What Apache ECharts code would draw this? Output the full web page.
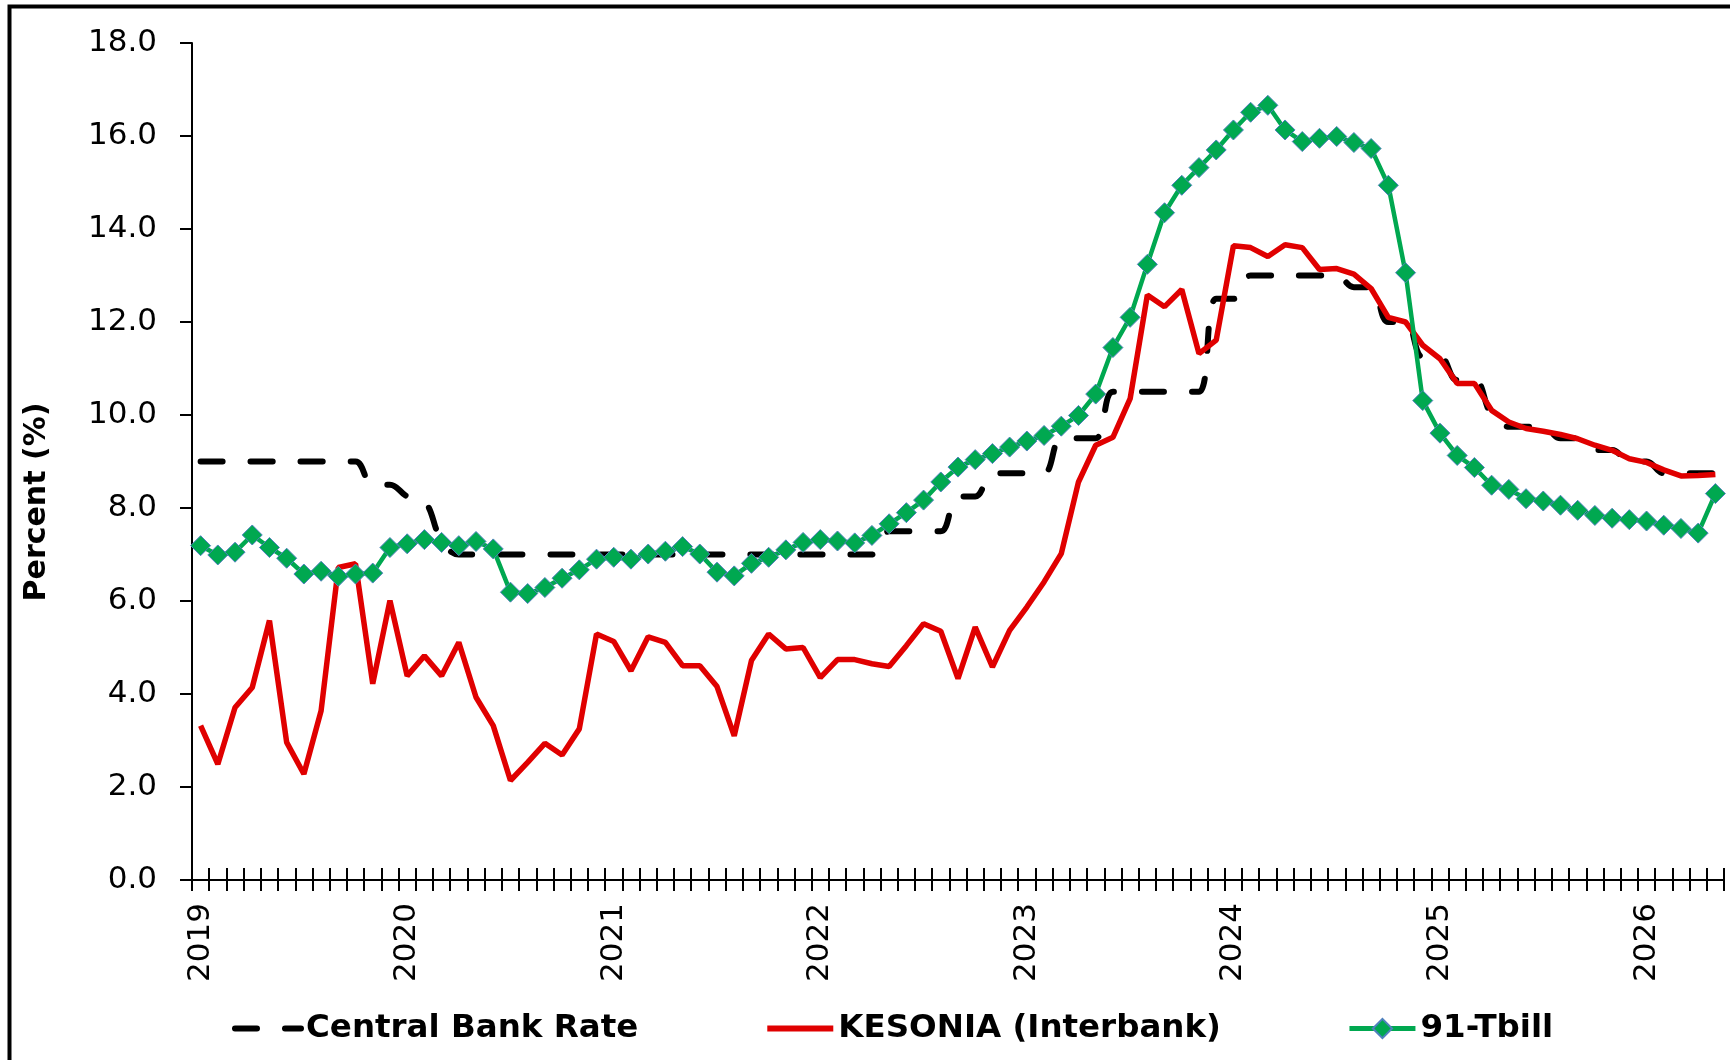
<!DOCTYPE html>
<html>
<head>
<meta charset="utf-8">
<title>Central Bank Rate, KESONIA and 91-Tbill</title>
<script src="https://cdn.jsdelivr.net/npm/echarts@6/dist/echarts.min.js"></script>
<style>
  html, body { margin: 0; padding: 0; background: #fff; }
  #chart { width: 1730px; height: 1060px; }
</style>
</head>
<body>
<div id="chart"></div>
<script>
// monthly, Jan 2019 .. May 2026
const months = []
for (let y = 2019; y <= 2026; y++) {
  for (let m = 1; m <= 12; m++) {
    if (y === 2026 && m > 5) break
    months.push(y + '-' + (m < 10 ? '0' + m : m))
  }
}

const cbr = [
  9.0, 9.0, 9.0, 9.0, 9.0, 9.0, 9.0, 9.0, 9.0, 9.0, 8.5, 8.5,
  8.25, 8.15, 7.3, 7.0, 7.0, 7.0, 7.0, 7.0, 7.0, 7.0, 7.0, 7.0,
  7.0, 7.0, 7.0, 7.0, 7.0, 7.0, 7.0, 7.0, 7.0, 7.0, 7.0, 7.0,
  7.0, 7.0, 7.0, 7.0, 7.5, 7.5, 7.5, 7.5, 8.25, 8.25, 8.75, 8.75,
  8.75, 8.75, 9.5, 9.5, 9.5, 10.5, 10.5, 10.5, 10.5, 10.5, 10.5, 12.5,
  12.5, 13.0, 13.0, 13.0, 13.0, 13.0, 13.0, 12.75, 12.75, 12.0, 12.0, 11.25,
  11.25, 10.75, 10.75, 10.0, 9.75, 9.75, 9.75, 9.5, 9.5, 9.25, 9.25, 9.0,
  9.0, 8.75, 8.75, 8.75, 8.75
]

const kesonia = [
  3.32, 2.49, 3.71, 4.14, 5.58, 2.96, 2.28, 3.64, 6.72, 6.80, 4.22, 6.01,
  4.39, 4.82, 4.39, 5.11, 3.93, 3.32, 2.14, 2.53, 2.94, 2.69, 3.25, 5.29,
  5.13, 4.50, 5.23, 5.11, 4.61, 4.61, 4.16, 3.10, 4.72, 5.29, 4.97, 5.00,
  4.35, 4.74, 4.74, 4.65, 4.59, 5.04, 5.51, 5.35, 4.33, 5.44, 4.58, 5.37,
  5.87, 6.41, 7.02, 8.56, 9.35, 9.52, 10.35, 12.58, 12.33, 12.70, 11.32, 11.61,
  13.64, 13.60, 13.41, 13.66, 13.60, 13.13, 13.15, 13.03, 12.72, 12.10, 12.00, 11.50,
  11.21, 10.68, 10.68, 10.10, 9.85, 9.71, 9.65, 9.58, 9.49, 9.35, 9.24, 9.06,
  8.98, 8.82, 8.69, 8.70, 8.72
]

const tbill91 = [
  7.19, 6.99, 7.05, 7.42, 7.15, 6.92, 6.58, 6.64, 6.53, 6.58, 6.60, 7.15,
  7.23, 7.32, 7.26, 7.19, 7.28, 7.12, 6.19, 6.16, 6.29, 6.49, 6.67, 6.90,
  6.94, 6.90, 7.01, 7.07, 7.17, 7.01, 6.62, 6.54, 6.81, 6.94, 7.10, 7.26,
  7.32, 7.29, 7.25, 7.41, 7.66, 7.90, 8.17, 8.56, 8.88, 9.04, 9.17, 9.31,
  9.44, 9.56, 9.76, 9.99, 10.45, 11.45, 12.10, 13.24, 14.35, 14.94, 15.32, 15.70,
  16.13, 16.51, 16.66, 16.13, 15.88, 15.95, 15.99, 15.86, 15.73, 14.94, 13.06, 10.31,
  9.61, 9.13, 8.87, 8.49, 8.40, 8.20, 8.15, 8.06, 7.95, 7.84, 7.78, 7.75,
  7.72, 7.63, 7.56, 7.46, 8.31
]

const yTicks = { min: 0, max: 18, step: 2 }

const font = 'DejaVu Sans'
const chart = echarts.init(document.getElementById('chart'))

const tickStyle = { color: '#000', width: 2 }

const option = {
  animation: false,
  backgroundColor: '#fff',
  grid: { left: 192, right: 6, top: 43, bottom: 180 },
  legend: {
    left: 232,
    top: 1012,
    padding: 0,
    itemWidth: 66,
    itemHeight: 24,
    itemGap: 126,
    lineStyle: { width: 6 },
    textStyle: { fontFamily: font, fontSize: 32.5, fontWeight: 'bold', color: '#000' },
    data: [
      { name: 'Central Bank Rate', itemStyle: { opacity: 0 } },
      { name: 'KESONIA (Interbank)', itemStyle: { opacity: 0 } },
      { name: '91-Tbill', lineStyle: { width: 5 } }
    ]
  },
  xAxis: [
    {
      type: 'category',
      data: months,
      boundaryGap: true,
      axisLine: { show: true, lineStyle: tickStyle },
      axisTick: { show: true, interval: 0, length: 11, lineStyle: tickStyle },
      axisLabel: {
        interval: (i) => i % 12 === 0,
        rotate: 90,
        margin: 23,
        fontFamily: font,
        fontSize: 31,
        color: '#000',
        formatter: (v) => v.slice(0, 4)
      }
    },
    {
      // same months again, ticks drawn upward so they cross the axis line
      type: 'category',
      data: months,
      position: 'bottom',
      offset: 0,
      boundaryGap: true,
      axisLine: { show: false },
      axisTick: { show: true, interval: 0, inside: true, length: 12, lineStyle: tickStyle },
      axisLabel: { show: false }
    }
  ],
  yAxis: {
    type: 'value',
    min: yTicks.min,
    max: yTicks.max,
    interval: yTicks.step,
    splitLine: { show: false },
    axisLine: { show: true, lineStyle: tickStyle },
    axisTick: { show: true, length: 12, lineStyle: tickStyle },
    axisLabel: {
      margin: 35,
      fontFamily: font,
      fontSize: 31,
      color: '#000',
      formatter: (v) => v.toFixed(1)
    }
  },
  graphic: [
    {
      type: 'rect',
      silent: true,
      shape: { x: 9.5, y: 6.5, width: 1800, height: 1200 },
      style: { fill: 'none', stroke: '#000', lineWidth: 4 }
    },
    {
      type: 'text',
      silent: true,
      x: 37,
      y: 502,
      rotation: Math.PI / 2,
      style: {
        text: 'Percent (%)',
        fontFamily: font,
        fontSize: 30,
        fontWeight: 'bold',
        fill: '#000',
        align: 'center',
        verticalAlign: 'middle'
      }
    }
  ],
  series: [
    {
      name: 'Central Bank Rate',
      type: 'line',
      data: cbr,
      smooth: 0.4,
      symbol: 'none',
      itemStyle: { color: '#000' },
      lineStyle: { color: '#000', width: 6, type: [22, 28], cap: 'round' }
    },
    {
      name: 'KESONIA (Interbank)',
      type: 'line',
      data: kesonia,
      symbol: 'none',
      itemStyle: { color: '#E00000' },
      lineStyle: { color: '#E00000', width: 5.5 }
    },
    {
      name: '91-Tbill',
      type: 'line',
      data: tbill91,
      symbol: 'diamond',
      symbolSize: 20,
      showAllSymbol: true,
      itemStyle: { color: '#00A850', borderColor: '#4F81BD', borderWidth: 1 },
      lineStyle: { color: '#00A850', width: 4.5 }
    }
  ]
}

chart.setOption(option)
</script>
</body>
</html>
